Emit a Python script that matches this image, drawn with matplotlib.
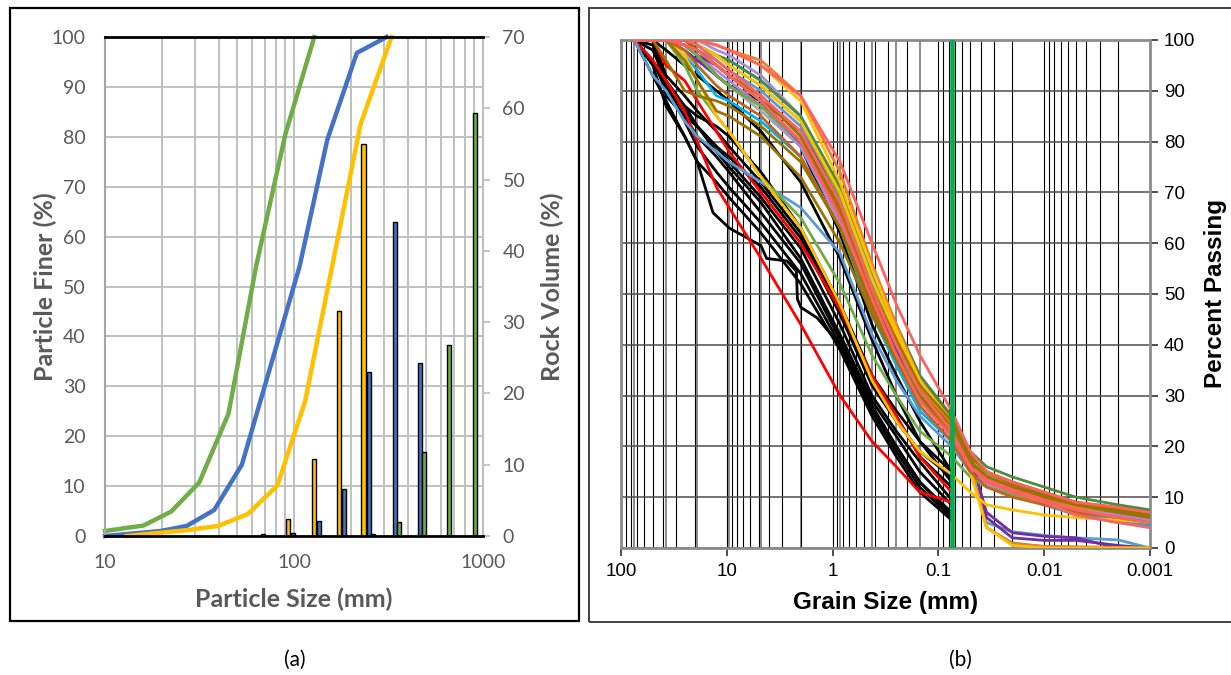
import matplotlib
matplotlib.use('Agg')
import matplotlib.pyplot as plt
import numpy as np
from matplotlib.patches import Rectangle
from matplotlib.ticker import FixedLocator, LogLocator, NullFormatter

# ---------------- panel (a) data ----------------
green_size = [10, 16, 22.4, 31.5, 45, 63, 90, 128]
green_pct = [1.0, 2.1, 4.9, 10.7, 24.5, 54, 80.5, 100]
blue_size = [10, 19.7, 27, 37.8, 53, 107, 150, 215, 309]
blue_pct = [0, 1.0, 2.0, 5.2, 14.3, 54, 79.4, 96.8, 100]
yellow_size = [13, 27.6, 39.6, 57, 81.6, 114.5, 225, 328]
yellow_pct = [0, 1.2, 2.0, 4.4, 10.1, 27, 82.5, 100]

yellow_bar_x = [68.5, 92.9, 127.6, 173, 234]
yellow_bar_h = [0.3, 2.4, 10.8, 31.6, 55.0]
blue_bar_x = [98.9, 135.6, 184, 249, 342, 464]
blue_bar_h = [0.4, 2.1, 6.6, 23.0, 44.0, 24.3]
green_bar_x = [262, 359, 488, 661, 908]
green_bar_h = [0.3, 2.0, 11.8, 26.8, 59.4]

# ---------------- panel (b) data ----------------
sieve_mm = [75, 50, 37.5, 25, 19, 12.5, 9.5, 4.75, 2.0, 0.85, 0.425, 0.25, 0.15, 0.075]
hydro_mm = [0.05, 0.035, 0.02, 0.01, 0.005, 0.002, 0.001]

# sieve only (end at 0.075 mm)
k1 = [100, 100, 90, 87, 85, 83, 81, 74, 63, 48, 34, 27, 21, 15]
k2 = [100, 100, 89, 85, 83, 79, 77, 71, 61, 46, 32, 25, 19, 14]
k3 = [100, 99, 91, 86, 83, 79, 76, 69, 59, 44, 30, 23, 17, 9.5]
k4 = [100, 98, 92, 87, 83, 78, 75, 68, 57, 42, 29, 22, 15, 8.5]
k5 = [100, 96, 90, 85, 81, 77, 74, 66, 56, 41, 28, 20, 13, 7]
k6 = [100, 100, 91, 84, 79, 74, 71, 64, 54, 40, 27, 19, 12, 6]
k7 = [100, 95, 87, 81, 76, 72, 69, 62, 52, 39, 26, 18, 11, 5.5]
k8 = [100, 100, 100, 99, 97, 93, 91, 88, 79, 62, 44, 34, 25, 15]
k9 = [100, 100, 98, 95, 93, 90, 88, 82, 72, 57, 41, 30, 21, 13]
k10 = [100, 100, 93, 89, 86, 82, 79, 72, 62, 47, 33, 26, 18, 12]
r1 = [100, 96, 92, 86, 80, 71, 67, 57, 44, 30, 21, 16, 11, 9]
r2 = [100, 100, 95, 92, 88, 82, 78, 70, 60, 47, 34, 26, 18, 11]

bump_mm = [75, 50, 37.5, 25, 19, 13.5, 9.5, 4.75, 4.2, 2.7, 2.2, 2.15, 2.0, 1.4, 0.85, 0.425, 0.25, 0.15, 0.075]
bump_pct = [100, 93, 88, 81, 76, 66, 63, 59.5, 57, 56.5, 54.5, 49, 47.4, 45.3, 40, 28, 20, 13, 6.5]

# sieve + hydrometer
lb1 = [100, 93, 90, 84, 81, 78, 76, 72, 67, 58, 42, 33, 26, 20, 15, 5, 3.2, 2.5, 2, 1.6, 0]
lb2 = [100, 100, 100, 100, 98, 96, 94, 90, 83, 70, 52, 41, 31, 22, 15, 12.5, 10.5, 8.5, 6.5, 5, 4.2]
c1 = [100, 100, 100, 97, 94, 89, 88, 84, 77, 63, 46, 36, 27, 21, 15, 13, 11, 9, 7, 5.5, 4.5]
c2 = [100, 100, 100, 100, 99, 97, 96, 92, 85, 71, 54, 43, 32, 24, 17, 14, 12, 10, 8, 6, 5]
p1 = [100, 100, 100, 98, 96, 93, 91, 87, 80, 66, 50, 39, 31, 25, 18, 7, 3, 2.3, 2.0, 0, 0]
p2 = [100, 100, 100, 99, 97, 95, 93, 88, 82, 69, 53, 42, 33, 26, 19, 6, 2, 1.5, 1.5, 0.5, 0]
o1 = [100, 100, 100, 100, 100, 99, 98, 96, 89, 74, 56, 44, 33, 24, 17, 14, 12, 10, 8, 7, 6]
o2 = [100, 100, 100, 99, 98, 95, 93, 89, 81, 66, 49, 38, 29, 22, 16, 4, 0.8, 0.3, 0.2, 0.1, 0]
lv1 = [100, 100, 100, 100, 100, 98, 97, 93, 85, 70, 52, 40, 30, 22, 15, 13, 11, 9.5, 8, 6.5, 5.5]
lv2 = [100, 100, 100, 99, 97, 94, 92, 87, 79, 64, 48, 37, 28, 21, 15, 12.5, 10.5, 9, 7.5, 6, 5]
g1 = [100, 100, 100, 99, 97, 93, 91, 87, 80, 67, 51, 40, 30, 23, 16, 4, 1, 0.3, 0.2, 0.1, 0]
g2 = [100, 100, 100, 95, 90, 85, 82, 73, 65, 52, 38, 30, 23, 18, 14, 12, 10.5, 9, 7.5, 6, 5]
g3 = [100, 100, 100, 100, 99, 97, 95, 91, 84, 69, 52, 41, 31, 23, 17, 14.5, 12.5, 10.5, 9, 8, 7.5]
dg1 = [100, 100, 100, 100, 99, 97, 96, 92, 85, 71, 55, 44, 34, 26, 19, 16, 14, 12, 10, 8.5, 7.5]
s1 = [100, 100, 100, 100, 100, 99, 98, 95, 89, 76, 60, 48, 38, 27, 19, 15, 13, 11, 9, 8, 7]
s2 = [100, 100, 100, 99, 98, 95, 93, 88, 80, 65, 49, 38, 29, 22, 16, 13.5, 11.5, 9.5, 7.5, 6, 5]
s3 = [100, 100, 100, 100, 99, 96, 94, 89, 82, 68, 51, 40, 31, 23, 16, 13, 11, 9, 6.5, 5, 4]
ol1 = [100, 100, 96, 90, 89, 88, 87, 83, 76, 63, 48, 38, 30, 23, 17, 14, 12, 10, 8.5, 7, 6]
ol2 = [100, 100, 100, 96, 92, 86, 85, 81, 73, 60, 46, 37, 29, 23, 17, 14, 12, 10.5, 9, 7.5, 6.5]
ol3 = [100, 100, 100, 100, 98, 95, 93, 89, 81, 67, 51, 41, 32, 25, 18, 15, 13, 11, 9, 7.5, 6.5]
bo1 = [100, 100, 100, 98, 95, 91, 89, 85, 77, 63, 47, 37, 28, 21, 15, 12, 10, 8.5, 7, 6, 5]
bo2 = [100, 100, 100, 100, 98, 95, 93, 88, 80, 66, 50, 40, 31, 24, 18, 15, 12.5, 10.5, 8.5, 7, 6]
y1 = [100, 100, 100, 97, 92, 85, 82, 73, 63, 48, 33, 25, 19, 14.5, 11, 8.5, 7.5, 6.5, 6, 5.5, 5]
y2 = [100, 100, 100, 100, 99, 97, 95, 91, 84, 70, 53, 42, 32, 24, 15, 4, 0.5, 0, 0, 0, 0]
y3 = [100, 100, 100, 100, 100, 99, 98, 95, 88, 72, 55, 43, 33, 25, 18, 15, 12.5, 10.5, 9, 7.5, 6.5]
gr1 = [100, 100, 100, 98, 96, 93, 91, 86, 79, 65, 49, 39, 30, 23, 16, 13.5, 11.5, 10, 8, 7, 6]

black_curves = [k1, k2, k3, k4, k5, k6, k7, k8, k9, k10]
colour_curves = [
    (r1, '#FF0000'), (r2, '#FF0000'),
    (lb1, '#5B9BD5'), (lb2, '#5B9BD5'), (c1, '#00B0F0'), (c2, '#00B0F0'),
    (gr1, '#A5A5A5'), (lv1, '#A98BDB'), (lv2, '#A98BDB'),
    (p1, '#7030A0'), (p2, '#7030A0'), (g1, '#70AD47'), (g2, '#70AD47'),
    (g3, '#70AD47'), (dg1, '#4E8B3A'), (o1, '#ED7D31'), (o2, '#ED7D31'),
    (y1, '#FFC000'), (y2, '#FFC000'), (y3, '#FFC000'),
    (bo1, '#C0651C'), (bo2, '#C0651C'), (ol1, '#997300'), (ol2, '#997300'),
    (ol3, '#997300'), (s2, '#FF6161'), (s3, '#FF6161'), (s1, '#FF6161'),
]
sieve_lines = [75, 37.5, 19, 9.5, 4.75, 2.0, 0.85, 0.425, 0.25, 0.15]

W, H = 1231, 675
fig = plt.figure(figsize=(W / 100, H / 100), dpi=100)

def frac(l, t, r, b):
    return [l / W, 1 - b / H, (r - l) / W, (b - t) / H]

grey_txt = '#595959'
fa = 'Lato'

# ---------------- panel (a) ----------------
ax_bar = fig.add_axes(frac(105, 37, 483, 536))
ax_bar.set_xscale('log')
ax_bar.set_xlim(10, 1000)
ax_bar.set_ylim(0, 70)
ax_bar.set_axisbelow(True)
ax_bar.xaxis.set_minor_locator(LogLocator(base=10, subs=np.arange(2, 10)))
ax_bar.grid(axis='x', which='both', color='#c0c0c0', lw=1.4)
ax_bar.set_yticks(np.linspace(0, 70, 11), minor=True)
ax_bar.grid(axis='y', which='minor', color='#c0c0c0', lw=1.4)
ax_bar.set_yticks(range(0, 71, 10))
ax_bar.yaxis.tick_right()
ax_bar.yaxis.set_label_position('right')
ax_bar.tick_params(axis='y', which='major', direction='out', length=5, color='#bfbfbf',
                   width=1.3, pad=9, labelsize=14, labelcolor=grey_txt)
ax_bar.tick_params(axis='y', which='minor', length=0)
ax_bar.tick_params(axis='x', which='both', length=0, labelbottom=False)
for lab in ax_bar.get_yticklabels():
    lab.set_family(fa)
ax_bar.set_ylabel('Rock Volume (%)', fontsize=18, fontweight='bold', color=grey_txt,
                  family=fa, labelpad=11)
for sp in ['top', 'bottom', 'left']:
    ax_bar.spines[sp].set_visible(False)
ax_bar.spines['right'].set_color('#bfbfbf')
ax_bar.spines['right'].set_linewidth(1.5)


def log_bars(ax, xs, hs, color):
    half = 10 ** (2.3 / 189)
    lefts = [x / half for x in xs]
    widths = [x * half - x / half for x in xs]
    ax.bar(lefts, hs, width=widths, align='edge', color=color, edgecolor='black', lw=1.0)


log_bars(ax_bar, yellow_bar_x, yellow_bar_h, '#FFC000')
log_bars(ax_bar, blue_bar_x, blue_bar_h, '#4472C4')
log_bars(ax_bar, green_bar_x, green_bar_h, '#70AD47')

ax_a = fig.add_axes(frac(105, 37, 483, 536))
ax_a.patch.set_visible(False)
ax_a.set_xscale('log')
ax_a.set_xlim(10, 1000)
ax_a.set_ylim(0, 100)
ax_a.plot(green_size, green_pct, color='#70AD47', lw=3.2, solid_joinstyle='round', clip_on=False)
ax_a.plot(blue_size, blue_pct, color='#4472C4', lw=3.2, solid_joinstyle='round', clip_on=False)
ax_a.plot(yellow_size, yellow_pct, color='#FFC000', lw=3.2, solid_joinstyle='round', clip_on=False)
ax_a.set_yticks(range(0, 101, 10))
ax_a.xaxis.set_major_locator(FixedLocator([10, 100, 1000]))
ax_a.xaxis.set_minor_formatter(NullFormatter())
ax_a.set_xticklabels(['10', '100', '1000'])
ax_a.tick_params(axis='both', which='both', length=0, labelsize=14, labelcolor=grey_txt)
ax_a.tick_params(axis='y', pad=14)
ax_a.tick_params(axis='x', pad=13)
for lab in ax_a.get_xticklabels() + ax_a.get_yticklabels():
    lab.set_family(fa)
ax_a.set_xlabel('Particle Size (mm)', fontsize=18, fontweight='bold', color=grey_txt,
                family=fa, labelpad=12)
ax_a.set_ylabel('Particle Finer (%)', fontsize=18, fontweight='bold', color=grey_txt,
                family=fa, labelpad=-4)
ax_a.spines['right'].set_visible(False)
ax_a.spines['top'].set_color('black')
ax_a.spines['top'].set_linewidth(2)
ax_a.spines['bottom'].set_color('black')
ax_a.spines['bottom'].set_linewidth(2)
ax_a.spines['left'].set_color('#a6a6a6')
ax_a.spines['left'].set_linewidth(1.5)

# ---------------- panel (b) ----------------
ax_b = fig.add_axes(frac(621, 40, 1150, 548))
ax_b.set_xscale('log')
ax_b.set_xlim(100, 0.001)
ax_b.set_ylim(0, 100)
ax_b.xaxis.set_minor_locator(LogLocator(base=10, subs=np.arange(2, 10)))
ax_b.grid(axis='x', which='both', color='black', lw=0.8)
ax_b.grid(axis='y', which='major', color='#4d4d4d', lw=1.1)
ax_b.set_axisbelow(True)
for s in sieve_lines:
    ax_b.axvline(s, color='#8c8c8c', lw=1.4, zorder=0.5)

all_mm = sieve_mm + hydro_mm
for vals in black_curves:
    ax_b.plot(all_mm[:len(vals)], vals, color='black', lw=2.0, solid_joinstyle='round', zorder=2)
ax_b.plot(bump_mm, bump_pct, color='black', lw=2.0, solid_joinstyle='round', zorder=2)
for vals, col in colour_curves:
    ax_b.plot(all_mm[:len(vals)], vals, color=col, lw=2.0, solid_joinstyle='round', zorder=3)

ax_b.axvline(0.075, color='#00B050', lw=3.3, zorder=5)

ax_b.set_yticks(range(0, 101, 10))
ax_b.yaxis.tick_right()
ax_b.yaxis.set_label_position('right')
ax_b.xaxis.set_major_locator(FixedLocator([100, 10, 1, 0.1, 0.01, 0.001]))
ax_b.set_xticklabels(['100', '10', '1', '0.1', '0.01', '0.001'])
ax_b.xaxis.set_minor_formatter(NullFormatter())
ax_b.tick_params(axis='both', which='major', direction='out', length=6, width=1.3,
                 color='#404040', labelsize=13.5, labelcolor='black')
ax_b.tick_params(axis='x', which='minor', length=0)
ax_b.tick_params(axis='y', pad=4)
ax_b.tick_params(axis='x', pad=5)
for lab in ax_b.get_xticklabels() + ax_b.get_yticklabels():
    lab.set_family('Liberation Sans')
ax_b.set_xlabel('Grain Size (mm)', fontsize=17.5, fontweight='bold', family='Liberation Sans',
                labelpad=8)
ax_b.set_ylabel('Percent Passing', fontsize=17.5, fontweight='bold', family='Liberation Sans',
                labelpad=6)
for sp in ax_b.spines.values():
    sp.set_color('#8c8c8c')
    sp.set_linewidth(2)

# ---------------- frames and captions ----------------
fig.patches.append(Rectangle((10 / W, 1 - 621 / H), 569 / W, 613 / H, transform=fig.transFigure,
                             fill=False, edgecolor='black', lw=1.6))
fig.patches.append(Rectangle((589 / W, 1 - 622 / H), 660 / W, 614 / H, transform=fig.transFigure,
                             fill=False, edgecolor='#404040', lw=1.4))
fig.text(295 / W, 1 - 660 / H, '(a)', ha='center', va='center', fontsize=15, family=fa)
fig.text(960 / W, 1 - 660 / H, '(b)', ha='center', va='center', fontsize=15, family=fa)

fig.savefig('out.png', dpi=100)
